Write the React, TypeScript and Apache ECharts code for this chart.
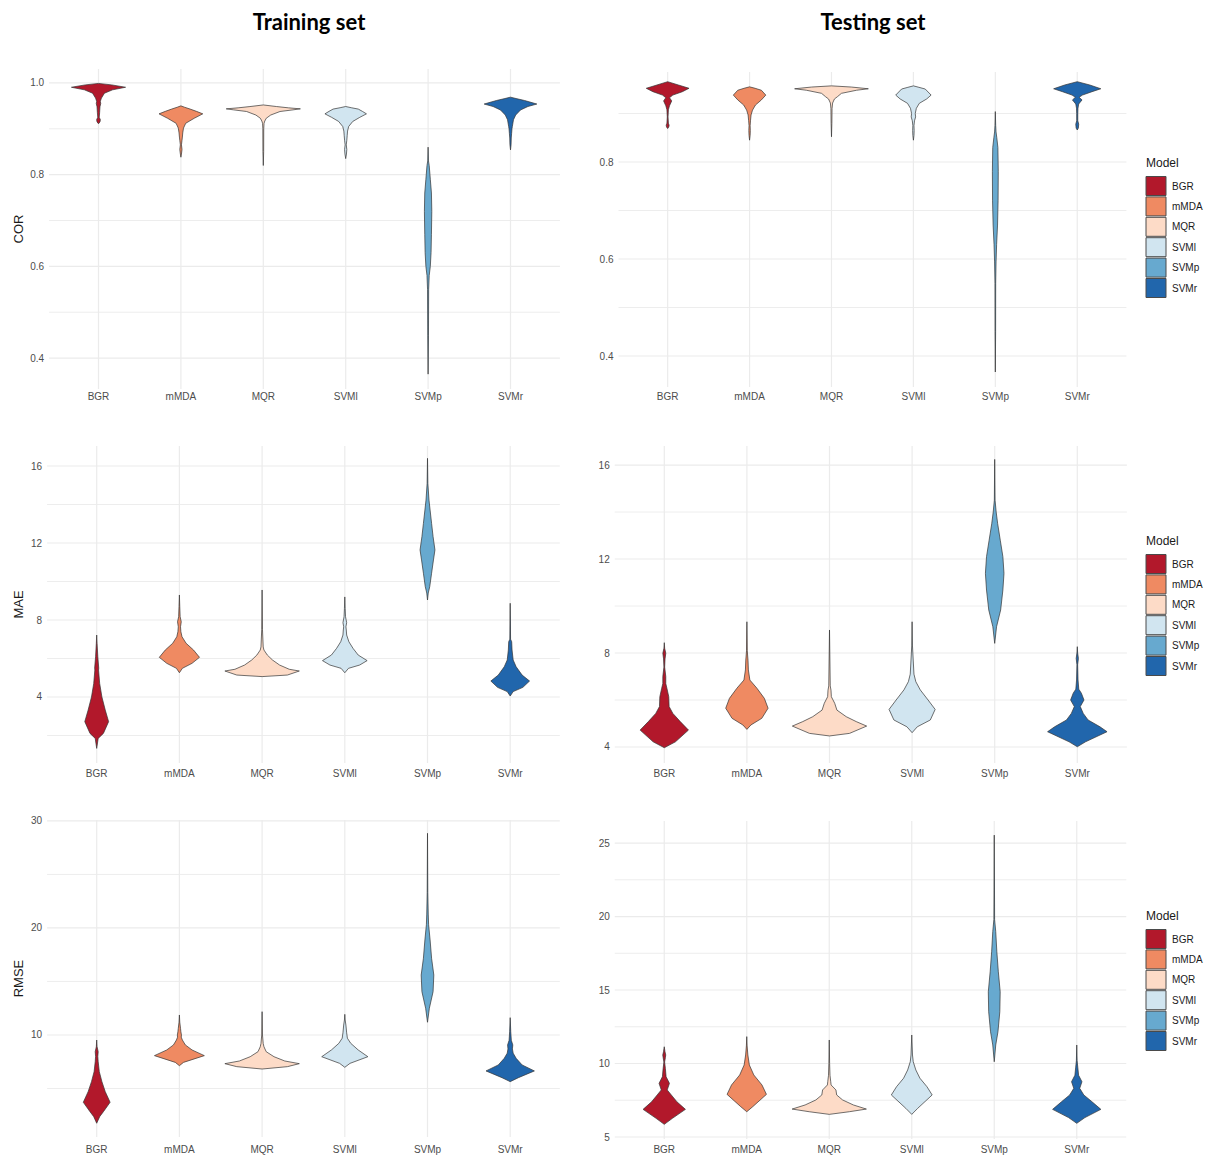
import React, { useEffect, useRef } from "react";
import * as echarts from "echarts";

// ---------- categories & palette ----------
const models = ["BGR", "mMDA", "MQR", "SVMl", "SVMp", "SVMr"];
const modelColors = ["#B2182B", "#EF8A62", "#FDDBC7", "#D1E5F0", "#67A9CF", "#2166AC"];

// ---------- violin profiles: [value, scaled density (1 = widest violin, 0.9 band)] bottom -> top ----------
// Training COR
const trainCOR_BGR = [[0.911,0],[0.915,0.04],[0.92,0.05],[0.925,0.02],[0.935,0.03],[0.948,0.04],[0.955,0.06],[0.96,0.05],[0.967,0.08],[0.9776,0.16],[0.985,0.38],[0.9906,0.73],[0.9957,0.36],[0.999,0]];
const trainCOR_mMDA = [[0.838,0],[0.845,0.015],[0.855,0.03],[0.865,0.015],[0.875,0.03],[0.882,0.04],[0.891,0.05],[0.9015,0.07],[0.912,0.13],[0.923,0.36],[0.9326,0.59],[0.938,0.42],[0.943,0.25],[0.947,0.1],[0.95,0]];
const trainCOR_MQR = [[0.82,0],[0.85,0.01],[0.9,0.012],[0.912,0.02],[0.917,0.04],[0.923,0.08],[0.93,0.2],[0.9377,0.45],[0.9413,0.8],[0.9435,1.0],[0.9457,0.68],[0.9485,0.36],[0.952,0]];
const trainCOR_SVMl = [[0.835,0],[0.845,0.02],[0.855,0.03],[0.865,0.015],[0.875,0.03],[0.885,0.04],[0.895,0.05],[0.905,0.08],[0.916,0.19],[0.925,0.38],[0.9326,0.56],[0.938,0.45],[0.943,0.34],[0.946,0.15],[0.9486,0]];
const trainCOR_SVMp = [[0.365,0],[0.45,0.01],[0.55,0.015],[0.58,0.03],[0.6,0.06],[0.63,0.08],[0.67,0.09],[0.72,0.1],[0.76,0.09],[0.79,0.06],[0.82,0.03],[0.83,0.01],[0.86,0]];
const trainCOR_SVMr = [[0.854,0],[0.865,0.015],[0.88,0.02],[0.89,0.03],[0.9,0.04],[0.905,0.05],[0.9196,0.08],[0.93,0.14],[0.941,0.27],[0.9486,0.47],[0.954,0.71],[0.9617,0.38],[0.966,0.15],[0.969,0]];
// Testing COR
const testCOR_BGR = [[0.869,0],[0.872,0.03],[0.876,0.04],[0.88,0.02],[0.893,0.01],[0.9078,0.02],[0.916,0.05],[0.926,0.11],[0.9326,0.05],[0.938,0.14],[0.945,0.4],[0.952,0.58],[0.9588,0.29],[0.9656,0]];
const testCOR_mMDA = [[0.845,0],[0.855,0.015],[0.865,0.02],[0.875,0.015],[0.885,0.025],[0.897,0.04],[0.907,0.08],[0.9175,0.16],[0.928,0.32],[0.938,0.44],[0.948,0.32],[0.952,0.15],[0.955,0]];
const testCOR_MQR = [[0.852,0],[0.88,0.01],[0.91,0.015],[0.9216,0.03],[0.93,0.08],[0.9346,0.16],[0.9416,0.27],[0.948,0.68],[0.951,1.0],[0.9546,0.54],[0.957,0]];
const testCOR_SVMl = [[0.845,0],[0.855,0.015],[0.865,0.02],[0.875,0.015],[0.885,0.03],[0.893,0.06],[0.9,0.05],[0.9107,0.08],[0.921,0.16],[0.93,0.36],[0.938,0.48],[0.9505,0.32],[0.954,0.15],[0.957,0]];
const testCOR_SVMp = [[0.367,0],[0.45,0.008],[0.55,0.01],[0.594,0.02],[0.63,0.035],[0.67,0.06],[0.72,0.075],[0.78,0.08],[0.83,0.07],[0.85,0.04],[0.862,0.02],[0.875,0.01],[0.904,0]];
const testCOR_SVMr = [[0.866,0],[0.87,0.03],[0.878,0.04],[0.885,0.015],[0.9,0.015],[0.911,0.02],[0.9196,0.04],[0.928,0.13],[0.9334,0.05],[0.938,0.14],[0.945,0.4],[0.951,0.64],[0.9588,0.34],[0.9656,0]];
// Training MAE
const trainMAE_BGR = [[1.33,0],[1.85,0.04],[2.11,0.18],[2.72,0.32],[3.32,0.23],[4.0,0.14],[4.7,0.08],[5.4,0.05],[5.5,0.055],[6.09,0.03],[6.79,0.01],[7.22,0]];
const trainMAE_mMDA = [[5.26,0],[5.49,0.08],[5.75,0.34],[6.06,0.54],[6.44,0.38],[6.79,0.18],[7.13,0.07],[7.39,0.04],[7.65,0.03],[7.91,0.05],[8.17,0.02],[8.7,0.01],[9.3,0]];
const trainMAE_MQR = [[5.06,0],[5.14,0.68],[5.35,1.0],[5.44,0.73],[5.66,0.47],[5.92,0.28],[6.18,0.14],[6.44,0.05],[6.6,0.03],[7.5,0.01],[9.56,0]];
const trainMAE_SVMl = [[5.26,0],[5.49,0.1],[5.66,0.4],[5.89,0.6],[6.18,0.36],[6.53,0.22],[6.87,0.11],[7.22,0.05],[7.48,0.04],[7.65,0.03],[7.86,0.05],[8.17,0.02],[8.6,0.01],[9.2,0]];
const trainMAE_SVMp = [[9.04,0],[9.4,0.02],[9.73,0.06],[10.43,0.11],[11.12,0.16],[11.64,0.2],[12.33,0.15],[13.02,0.11],[13.71,0.07],[14.23,0.04],[15.1,0.01],[16.4,0]];
const trainMAE_SVMr = [[4.05,0],[4.28,0.08],[4.5,0.34],[4.83,0.52],[5.14,0.32],[5.57,0.16],[5.92,0.08],[6.44,0.05],[6.87,0.04],[7.0,0.01],[8.87,0]];
// Testing MAE
const testMAE_BGR = [[3.97,0],[4.22,0.3],[4.72,0.65],[5.08,0.43],[5.43,0.23],[5.72,0.13],[6.14,0.12],[6.5,0.07],[6.7,0.04],[7.0,0.04],[7.4,0.01],[7.75,0.02],[7.99,0.04],[8.2,0.01],[8.44,0]];
const testMAE_mMDA = [[4.75,0],[4.94,0.11],[5.22,0.4],[5.65,0.57],[6.07,0.47],[6.5,0.27],[6.85,0.08],[7.28,0.04],[7.7,0.03],[8.1,0.01],[9.33,0]];
const testMAE_MQR = [[4.47,0],[4.58,0.54],[4.89,1.0],[5.08,0.72],[5.29,0.45],[5.57,0.2],[5.86,0.14],[6.14,0.05],[6.42,0.04],[6.6,0.02],[8.98,0]];
const testMAE_SVMl = [[4.61,0],[4.86,0.14],[5.15,0.49],[5.6,0.62],[6.0,0.43],[6.43,0.22],[6.78,0.1],[7.1,0.05],[7.7,0.03],[8.3,0.01],[9.33,0]];
const testMAE_SVMp = [[8.41,0],[9.12,0.05],[9.83,0.16],[10.68,0.22],[11.39,0.25],[12.1,0.22],[12.8,0.15],[13.5,0.08],[14.0,0.04],[14.5,0.01],[16.24,0]];
const testMAE_SVMr = [[4.01,0],[4.22,0.22],[4.65,0.8],[4.86,0.61],[5.15,0.29],[5.43,0.16],[5.72,0.08],[6.0,0.18],[6.29,0.11],[6.46,0.04],[6.85,0.02],[7.5,0.01],[7.77,0.03],[8.0,0.01],[8.27,0]];
// Training RMSE
const trainRMSE_BGR = [[1.75,0],[2.37,0.08],[2.83,0.18],[3.71,0.36],[4.7,0.23],[5.64,0.14],[6.57,0.07],[7.5,0.04],[8.0,0.03],[8.44,0.04],[8.9,0.01],[9.53,0]];
const trainRMSE_mMDA = [[7.13,0],[7.44,0.11],[8.07,0.67],[8.6,0.34],[9.07,0.16],[9.53,0.08],[9.8,0.05],[10.0,0.055],[10.3,0.04],[10.62,0.03],[11.2,0.01],[11.87,0]];
const trainRMSE_MQR = [[6.82,0],[7.04,0.68],[7.32,1.0],[7.57,0.61],[7.97,0.32],[8.44,0.11],[8.9,0.05],[9.2,0.03],[10.0,0.01],[12.18,0]];
const trainRMSE_SVMl = [[6.98,0],[7.35,0.14],[7.97,0.62],[8.6,0.36],[9.22,0.16],[9.7,0.07],[10.2,0.05],[10.93,0.03],[11.4,0.01],[11.93,0]];
const trainRMSE_SVMp = [[11.19,0],[12.5,0.05],[14.05,0.15],[15.6,0.17],[17.17,0.11],[18.88,0.07],[20.3,0.03],[21.3,0.02],[23.3,0.008],[28.85,0]];
const trainRMSE_SVMr = [[5.64,0],[6.01,0.22],[6.64,0.65],[7.2,0.32],[7.82,0.16],[8.3,0.08],[8.7,0.06],[9.07,0.07],[9.5,0.03],[10.3,0.015],[11.62,0]];
// Testing RMSE
const testRMSE_BGR = [[5.86,0],[6.27,0.22],[6.88,0.57],[7.4,0.34],[7.86,0.19],[8.2,0.08],[8.65,0.14],[9.1,0.05],[9.67,0.03],[10.1,0.01],[10.4,0.03],[10.58,0.04],[10.8,0.02],[11.14,0]];
const testRMSE_mMDA = [[6.72,0],[7.06,0.16],[7.9,0.53],[8.54,0.41],[9.22,0.19],[9.9,0.07],[10.58,0.03],[11.2,0.01],[11.83,0]];
const testRMSE_MQR = [[6.54,0],[6.72,0.54],[6.9,1.0],[7.18,0.65],[7.52,0.36],[7.86,0.2],[8.2,0.18],[8.54,0.05],[8.76,0.04],[9.2,0.02],[10.0,0.01],[11.6,0]];
const testRMSE_SVMl = [[6.54,0],[6.95,0.16],[7.86,0.55],[8.42,0.41],[9.0,0.22],[9.56,0.11],[10.12,0.04],[10.58,0.02],[11.94,0]];
const testRMSE_SVMp = [[10.12,0],[11.26,0.04],[12.16,0.1],[13.52,0.15],[14.88,0.16],[16.24,0.11],[17.6,0.07],[18.97,0.04],[19.8,0.01],[25.54,0]];
const testRMSE_SVMr = [[5.93,0],[6.32,0.22],[6.88,0.65],[7.4,0.41],[7.86,0.19],[8.31,0.08],[8.76,0.14],[9.2,0.05],[9.7,0.03],[10.2,0.01],[11.26,0]];

// ---------- tick values ----------
const corTrainMajor = [0.4, 0.6, 0.8, 1.0];
const corTrainMinor = [0.5, 0.7, 0.9];
const corTestMajor = [0.4, 0.6, 0.8];
const corTestMinor = [0.5, 0.7, 0.9];
const maeTrainMajor = [4, 8, 12, 16];
const maeTrainMinor = [2, 6, 10, 14];
const maeTestMajor = [4, 8, 12, 16];
const maeTestMinor = [6, 10, 14];
const rmseTrainMajor = [10, 20, 30];
const rmseTrainMinor = [5, 15, 25];
const rmseTestMajor = [5, 10, 15, 20, 25];
const rmseTestMinor = [7.5, 12.5, 17.5, 22.5];

const panelTitles = ["Training set", "Testing set"];
const legendTitle = "Model";

const FONT = "'Liberation Sans', Arial, sans-serif";

type Panel = {
  profiles: number[][][];
  major: number[];
  minor: number[];
  range: [number, number];
  digits: number;
  grid: { left: number; top: number; width: number; height: number };
  labelY: number;
  yTitle?: string;
  legendY?: number;
};

const panels: Panel[] = [
  { profiles: [trainCOR_BGR, trainCOR_mMDA, trainCOR_MQR, trainCOR_SVMl, trainCOR_SVMp, trainCOR_SVMr], major: corTrainMajor, minor: corTrainMinor, range: [0.3326, 1.0304], digits: 1, grid: { left: 57.3, top: 69, width: 494.4, height: 320 }, labelY: 397, yTitle: "COR" },
  { profiles: [testCOR_BGR, testCOR_mMDA, testCOR_MQR, testCOR_SVMl, testCOR_SVMp, testCOR_SVMr], major: corTestMajor, minor: corTestMinor, range: [0.3361, 0.9856], digits: 1, grid: { left: 626.7, top: 72, width: 491.5, height: 315 }, labelY: 397, legendY: 163 },
  { profiles: [trainMAE_BGR, trainMAE_mMDA, trainMAE_MQR, trainMAE_SVMl, trainMAE_SVMp, trainMAE_SVMr], major: maeTrainMajor, minor: maeTrainMinor, range: [0.571, 17.04], digits: 0, grid: { left: 55.35, top: 446, width: 496.2, height: 317 }, labelY: 774, yTitle: "MAE" },
  { profiles: [testMAE_BGR, testMAE_mMDA, testMAE_MQR, testMAE_SVMl, testMAE_SVMp, testMAE_SVMr], major: maeTestMajor, minor: maeTestMinor, range: [3.319, 16.81], digits: 0, grid: { left: 623, top: 446, width: 495.6, height: 317 }, labelY: 774, legendY: 541 },
  { profiles: [trainRMSE_BGR, trainRMSE_mMDA, trainRMSE_MQR, trainRMSE_SVMl, trainRMSE_SVMp, trainRMSE_SVMr], major: rmseTrainMajor, minor: rmseTrainMinor, range: [0.467, 30.09], digits: 0, grid: { left: 55.35, top: 820, width: 496.2, height: 317 }, labelY: 1150, yTitle: "RMSE" },
  { profiles: [testRMSE_BGR, testRMSE_mMDA, testRMSE_MQR, testRMSE_SVMl, testRMSE_SVMp, testRMSE_SVMr], major: rmseTestMajor, minor: rmseTestMinor, range: [4.864, 26.5], digits: 0, grid: { left: 623, top: 821, width: 495, height: 318 }, labelY: 1150, legendY: 916 },
];

function buildOption() {
  const grids: any[] = [];
  const xAxes: any[] = [];
  const yAxes: any[] = [];
  const series: any[] = [];
  const graphics: any[] = [];

  panels.forEach((p, i) => {
    grids.push({ ...p.grid });
    const bottom = p.grid.top + p.grid.height;
    xAxes.push({
      type: "category",
      gridIndex: i,
      data: models,
      boundaryGap: true,
      axisLine: { show: false },
      axisTick: { show: false },
      splitLine: { show: false },
      axisLabel: { color: "#4d4d4d", fontSize: 10, fontFamily: FONT, margin: p.labelY - 6 - bottom },
    });
    yAxes.push({
      type: "value",
      gridIndex: i,
      min: p.range[0],
      max: p.range[1],
      axisLine: { show: false },
      axisTick: { show: false },
      axisLabel: { show: false },
      splitLine: { show: false },
    });

    // horizontal gridlines (major + minor) and y labels
    const hData = p.major.map((v) => [0, v, 1]).concat(p.minor.map((v) => [0, v, 0]));
    series.push({
      type: "custom",
      xAxisIndex: i,
      yAxisIndex: i,
      clip: false,
      silent: true,
      z: 1,
      data: hData,
      renderItem: (params: any, api: any) => {
        const cs = params.coordSys;
        const band = api.size([1, 0])[0];
        const ext = 0.1 * band;
        const v = api.value(1);
        const isMajor = api.value(2) === 1;
        const y = api.coord([0, v])[1];
        const children: any[] = [
          {
            type: "line",
            shape: { x1: cs.x - ext, y1: y, x2: cs.x + cs.width + ext, y2: y },
            style: { stroke: "#ebebeb", lineWidth: isMajor ? 1.2 : 0.9 },
          },
        ];
        if (isMajor) {
          children.push({
            type: "text",
            x: cs.x - ext - 5,
            y: y,
            style: {
              text: v.toFixed(p.digits),
              align: "right",
              verticalAlign: "middle",
              fill: "#4d4d4d",
              font: `10px ${FONT}`,
            },
          });
        }
        return { type: "group", children };
      },
    });

    // vertical gridlines at categories
    series.push({
      type: "custom",
      xAxisIndex: i,
      yAxisIndex: i,
      clip: false,
      silent: true,
      z: 1,
      data: models.map((_, k) => [k, p.range[0]]),
      renderItem: (params: any, api: any) => {
        const cs = params.coordSys;
        const x = api.coord([api.value(0), p.range[0]])[0];
        return {
          type: "line",
          shape: { x1: x, y1: cs.y, x2: x, y2: cs.y + cs.height },
          style: { stroke: "#ebebeb", lineWidth: 1.2 },
        };
      },
    });

    // violins
    series.push({
      type: "custom",
      xAxisIndex: i,
      yAxisIndex: i,
      clip: false,
      z: 3,
      data: p.profiles.map((prof, k) => [k, prof[0][0]]),
      renderItem: (params: any, api: any) => {
        const k = params.dataIndex;
        const prof = p.profiles[k];
        const band = api.size([1, 0])[0];
        const half = 0.45 * band;
        const cx = api.coord([k, prof[0][0]])[0];
        const right = prof.map(([v, d]) => [cx + d * half, api.coord([k, v])[1]]);
        const left = prof
          .slice()
          .reverse()
          .slice(1, -1)
          .map(([v, d]) => [cx - d * half, api.coord([k, v])[1]]);
        return {
          type: "polygon",
          shape: { points: right.concat(left) },
          style: { fill: modelColors[k], stroke: "#333333", lineWidth: 0.7, lineJoin: "round" },
        };
      },
    });

    if (p.yTitle) {
      graphics.push({
        type: "text",
        x: 18,
        y: p.grid.top + p.grid.height / 2,
        rotation: Math.PI / 2,
        style: { text: p.yTitle, align: "center", verticalAlign: "middle", fill: "#1a1a1a", font: `13px ${FONT}` },
      });
    }

    if (p.legendY !== undefined) {
      const lx = 1146;
      graphics.push({
        type: "text",
        x: lx,
        y: p.legendY,
        style: { text: legendTitle, align: "left", verticalAlign: "middle", fill: "#1a1a1a", font: `12px ${FONT}` },
      });
      models.forEach((m, k) => {
        const cy = p.legendY! + 23 + k * 20.4;
        graphics.push({
          type: "rect",
          shape: { x: lx, y: cy - 9.5, width: 20, height: 19 },
          style: { fill: modelColors[k], stroke: "#4a4a4a", lineWidth: 1 },
        });
        graphics.push({
          type: "text",
          x: lx + 26,
          y: cy,
          style: { text: m, align: "left", verticalAlign: "middle", fill: "#1a1a1a", font: `10px ${FONT}` },
        });
      });
    }
  });

  graphics.push({
    type: "text",
    x: 309,
    y: 21,
    style: { text: panelTitles[0], align: "center", verticalAlign: "middle", fill: "#000", font: `bold 22px Lato, 'Open Sans', sans-serif` },
  });
  graphics.push({
    type: "text",
    x: 873,
    y: 21,
    style: { text: panelTitles[1], align: "center", verticalAlign: "middle", fill: "#000", font: `bold 22px Lato, 'Open Sans', sans-serif` },
  });

  return {
    animation: false,
    backgroundColor: "#ffffff",
    grid: grids,
    xAxis: xAxes,
    yAxis: yAxes,
    series,
    graphic: graphics,
  };
}

export default function App() {
  const ref = useRef<HTMLDivElement>(null);
  useEffect(() => {
    if (!ref.current) return;
    const chart = echarts.init(ref.current, undefined, { renderer: "svg" });
    chart.setOption(buildOption() as any);
    return () => chart.dispose();
  }, []);
  return (
    <div
      ref={ref}
      style={{ position: "absolute", left: 0, top: 0, width: 1213, height: 1158, background: "#fff" }}
    />
  );
}
